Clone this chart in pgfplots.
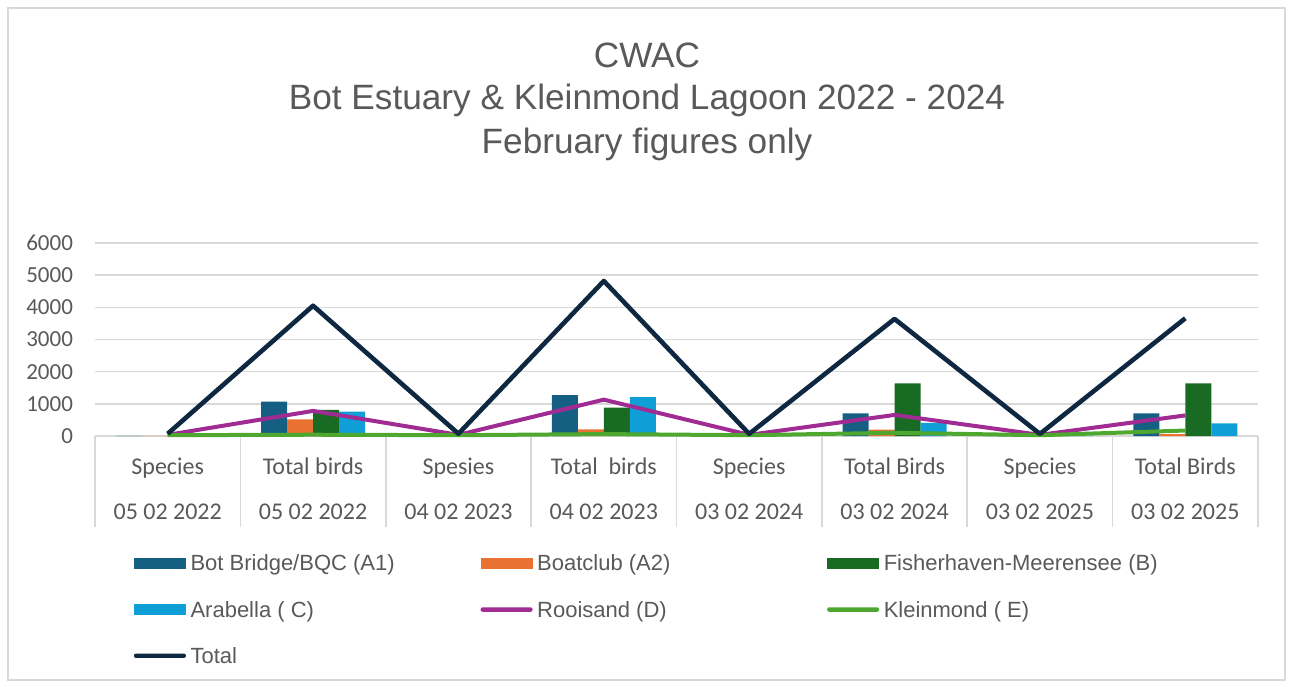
\documentclass[border=0pt]{standalone}
\usepackage{fontspec}
\setmainfont{Liberation Sans}
\newfontfamily\narrowfont{Carlito}
\usepackage{pgfplots}
\pgfplotsset{compat=1.18}
\definecolor{cA}{HTML}{156082}
\definecolor{cB}{HTML}{E97132}
\definecolor{cC}{HTML}{196B24}
\definecolor{cD}{HTML}{0F9ED5}
\definecolor{cE}{HTML}{A02B93}
\definecolor{cF}{HTML}{4EA72E}
\definecolor{cT}{HTML}{0E2841}
\definecolor{txt}{HTML}{595959}
\definecolor{gridc}{HTML}{D9D9D9}
\pgfplotsset{
  barleg/.style={legend image code/.code={\fill[##1,draw=none] (0pt,-2.6pt) rectangle (26pt,2.6pt);}},
  lineleg/.style={legend image code/.code={\fill[##1,draw=none,rounded corners=1pt] (0pt,-1.1pt) rectangle (26pt,1.1pt);}}
}
\newcommand{\lt}[1]{\makebox[145pt][l]{\strut #1}}
\begin{document}
\begin{tikzpicture}
\useasboundingbox (-47.5pt,-125pt) rectangle (597pt,218pt);
\draw[gridc, line width=0.7pt] (-43.5pt,-122pt) rectangle (595pt,214pt);
\begin{scope}[font=\fontsize{17.6}{21}\selectfont, text=txt]
\node[anchor=base] at (276pt,184pt) {CWAC};
\node[anchor=base] at (276pt,163pt) {Bot Estuary \& Kleinmond Lagoon 2022 - 2024};
\node[anchor=base] at (276pt,141.5pt) {February figures only};
\end{scope}
\begin{axis}[
  at={(0pt,0pt)}, anchor=south west,
  scale only axis, width=581.5pt, height=96.5pt,
  xmin=-0.5, xmax=7.5, ymin=0, ymax=6000,
  ytick={0,1000,...,6000},
  xtick={0,...,7},
  xticklabels={{Species\\05 02 2022},{Total birds\\05 02 2022},{Spesies\\04 02 2023},{Total\ \ birds\\04 02 2023},{Species\\03 02 2024},{Total Birds\\03 02 2024},{Species\\03 02 2025},{Total Birds\\03 02 2025}},
  axis line style={draw=none},
  ymajorgrids, grid style={gridc, line width=0.8pt},
  major tick length=0pt,
  tick style={gridc, line width=0.8pt},
  xtick pos=bottom, ytick pos=left,
  extra x ticks={-0.5,0.5,...,7.5},
  extra x tick labels={},
  extra x tick style={major tick length=45.5pt, tick align=outside, grid=none},
  ticklabel style={font=\narrowfont\fontsize{11.5}{13}\selectfont, text=txt},
  yticklabel style={xshift=-7.5pt},
  xticklabel style={align=center, anchor=north, yshift=-7.5pt, font=\narrowfont\fontsize{12}{22.5}\selectfont},
  /pgf/number format/1000 sep={},
  /pgf/number format/assume math mode=true,
  clip=false,
  legend columns=3,
  legend cell align=left,
  legend style={at={(0.0335,-0.605)}, anchor=north west, draw=none, fill=none,
    inner sep=0pt, outer sep=0pt, row sep=12.5pt,
    nodes={inner sep=0pt, text=txt},
    font=\fontsize{11}{13}\selectfont,
    /tikz/every odd column/.append style={column sep=2.3pt}},
]
\addplot[ybar, bar width=13pt, bar shift=-19.5pt, fill=cA, draw=none, barleg] coordinates {(0,5) (1,1070) (2,5) (3,1270) (4,5) (5,705) (6,5) (7,705)};
\addlegendentry{\lt{Bot Bridge/BQC (A1)}}
\addplot[ybar, bar width=13pt, bar shift=-6.5pt, fill=cB, draw=none, barleg] coordinates {(0,3) (1,520) (2,3) (3,205) (4,3) (5,200) (6,3) (7,60)};
\addlegendentry{\lt{Boatclub (A2)}}
\addplot[ybar, bar width=13pt, bar shift=6.5pt, fill=cC, draw=none, barleg] coordinates {(0,5) (1,810) (2,5) (3,880) (4,5) (5,1640) (6,5) (7,1640)};
\addlegendentry{\lt{Fisherhaven-Meerensee (B)}}
\addplot[ybar, bar width=13pt, bar shift=19.5pt, fill=cD, draw=none, barleg] coordinates {(0,5) (1,760) (2,5) (3,1205) (4,5) (5,410) (6,5) (7,395)};
\addlegendentry{\lt{Arabella ( C)}}
\addplot[sharp plot, cE, line width=2pt, line join=round, mark=none, lineleg] coordinates {(0,35) (1,780) (2,35) (3,1130) (4,35) (5,655) (6,35) (7,640)};
\addlegendentry{\lt{Rooisand (D)}}
\addplot[sharp plot, cF, line width=2pt, line join=round, mark=none, lineleg] coordinates {(0,25) (1,40) (2,25) (3,60) (4,25) (5,100) (6,25) (7,170)};
\addlegendentry{\lt{Kleinmond ( E)}}
\addplot[sharp plot, cT, line width=2.3pt, line join=round, mark=none, lineleg] coordinates {(0,70) (1,4050) (2,70) (3,4820) (4,65) (5,3640) (6,65) (7,3660)};
\addlegendentry{\lt{Total}}
\end{axis}
\end{tikzpicture}
\end{document}
